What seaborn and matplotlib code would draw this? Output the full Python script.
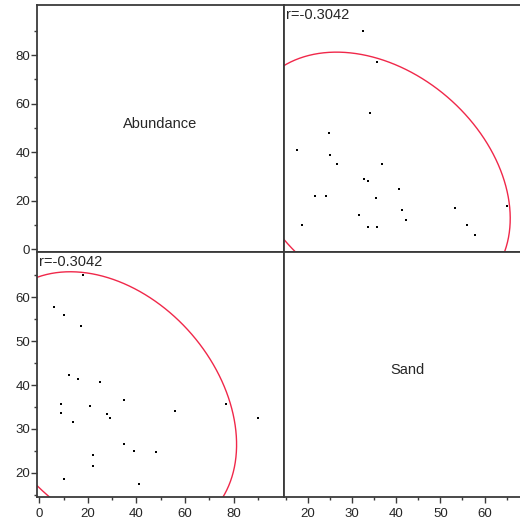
"""
Scatterplot matrix: Abundance vs Sand with 95% ellipses
"""

import numpy as np
import pandas as pd
import seaborn as sns
import matplotlib.pyplot as plt
from matplotlib.transforms import offset_copy

# Data

abundance = [18, 6, 10, 17, 12, 16, 25, 35, 9, 21, 9, 28,
             29, 14, 56, 77, 90, 35, 39, 48, 22, 22, 10, 41]
sand = [65.0, 57.8, 56.0, 53.4, 42.2, 41.4, 40.6, 36.7, 35.6, 35.3, 33.7, 33.5,
        32.6, 31.5, 34.0, 35.6, 32.4, 26.6, 24.9, 24.7, 24.1, 21.6, 18.6, 17.5]
variables = ['Abundance', 'Sand']
r_label = 'r=-0.3042'

sns.set_style('white')
plt.rcParams['font.family'] = ['Liberation Sans', 'DejaVu Sans']

df = pd.DataFrame({'Abundance': abundance, 'Sand': sand})

# Axis settings per variable

lims = {'Abundance': (-1, 100.7), 'Sand': (14.5, 70.4)}
majors = {'Abundance': np.arange(0, 81, 20), 'Sand': np.arange(20, 61, 10)}
minors = {'Abundance': np.arange(10, 91, 20), 'Sand': np.arange(15, 66, 10)}

fig = plt.figure(figsize=(5.2, 5.27), dpi=100)
lefts = [0.0712, 0.5456]
bottoms = [0.5224, 0.0569]
heights = [0.4681, 0.4655]
width = 0.4744

spine_col = '#3a3a3a'


def ellipse_xy(x, y, chi2=5.991, n=300):
    # 95% normal ellipse from the sample covariance
    cov = np.cov(x, y)
    vals, vecs = np.linalg.eigh(cov)
    t = np.linspace(0, 2 * np.pi, n)
    circ = np.vstack([np.cos(t), np.sin(t)])
    pts = vecs @ (np.sqrt(vals * chi2)[:, None] * circ)
    return pts[0] + np.mean(x), pts[1] + np.mean(y)


for i, yv in enumerate(variables):
    for j, xv in enumerate(variables):
        ax = fig.add_axes([lefts[j], bottoms[i], width, heights[i]])
        ax.set_xlim(lims[xv])
        ax.set_ylim(lims[yv])

        if i == j:
            ax.text(0.5, 0.5, xv, transform=ax.transAxes, ha='center',
                    va='baseline', fontsize=10.5)
        else:
            ex, ey = ellipse_xy(df[xv], df[yv])
            ax.plot(ex, ey, color='#f0284a', lw=1)
            sns.scatterplot(x=xv, y=yv, data=df, marker='s', s=3.5,
                            color='black', linewidth=0, ax=ax)
            tr = offset_copy(ax.transAxes, fig=fig, x=1.5, y=-2.5, units='points')
            ax.text(0, 1, r_label, transform=tr, ha='left',
                    va='top', fontsize=10.5)

        ax.set_xlabel('')
        ax.set_ylabel('')

        # Ticks only on the outer left column and bottom row
        if j == 0:
            ax.set_yticks(majors[yv])
            ax.set_yticks(minors[yv], minor=True)
        else:
            ax.set_yticks([])
        if i == 1:
            ax.set_xticks(majors[xv])
            ax.set_xticks(minors[xv], minor=True)
        else:
            ax.set_xticks([])

        ax.tick_params(which='major', direction='out', length=4, width=1,
                       color=spine_col, labelsize=9.5,
                       left=(j == 0), bottom=(i == 1))
        ax.tick_params(which='minor', direction='out', length=2.3, width=1,
                       color=spine_col, left=(j == 0), bottom=(i == 1))
        ax.tick_params(axis='x', which='major', pad=4)
        ax.tick_params(axis='y', which='major', pad=1)

        for s in ax.spines.values():
            s.set_visible(True)
            s.set_color(spine_col)
            s.set_linewidth(1.3)

plt.savefig('out.png', dpi=100)
